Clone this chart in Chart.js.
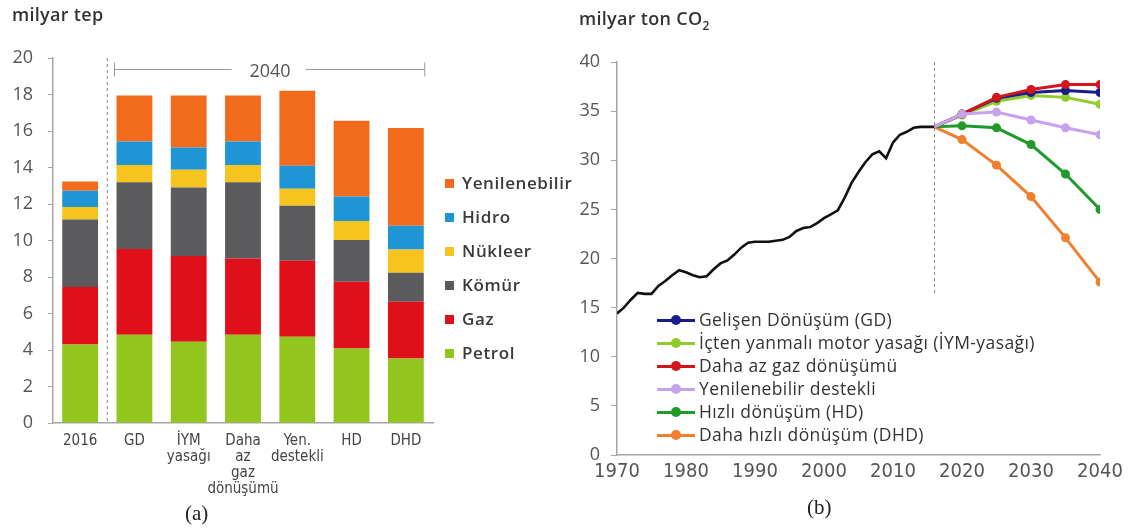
<!DOCTYPE html>
<html lang="tr">
<head>
<meta charset="utf-8">
<title>Enerji talebi ve CO2 emisyonları</title>
<script src="https://cdn.jsdelivr.net/npm/chart.js@4/dist/chart.umd.min.js"></script>
<style>
  html, body { margin: 0; padding: 0; background: #fff; }
  #wrap { position: relative; width: 1136px; height: 531px; overflow: hidden; background: #fff;
          font-family: "Open Sans", "Noto Sans", sans-serif; }
  canvas { position: absolute; top: 0; }
  #cA { left: 0; }
  #cB { left: 570px; }
  .unit { position: absolute; font-size: 18px; font-weight: 600; color: #333; white-space: nowrap; letter-spacing: 0.3px; }
  .unit sub { font-size: 12px; vertical-align: -5px; }
  .cap { position: absolute; font-family: "Liberation Serif", "DejaVu Serif", serif; font-size: 21px; color: #222; }
  #yr2040 { position: absolute; font-size: 18px; color: #555; transform: translate(-50%, -50%); }
  .legA { position: absolute; left: 445px; font-size: 17px; font-weight: 600; color: #3a3a3a; white-space: nowrap; letter-spacing: 0.6px; }
  .legA i { display: inline-block; width: 9px; height: 9px; margin-right: 8px; vertical-align: 1px; }
  .legB { position: absolute; left: 657px; font-size: 17.5px; color: #333; white-space: nowrap; line-height: 22px; letter-spacing: 0.4px; }
  .legB span.s { display: inline-block; position: relative; width: 38px; height: 10px; margin-right: 4px; vertical-align: 1px; }
  .legB span.s b { position: absolute; left: 0; right: 0; top: 4px; height: 3px; }
  .legB span.s em { position: absolute; left: 14px; top: 0px; width: 10px; height: 10px; border-radius: 50%; }
</style>
</head>
<body>
<div id="wrap">
  <canvas id="cA" width="570" height="531"></canvas>
  <canvas id="cB" width="566" height="531"></canvas>

  <div class="unit" style="left:12px; top:2px;">milyar tep</div>
  <div class="unit" style="left:579px; top:6px;">milyar ton CO<sub>2</sub></div>
  <div id="yr2040" style="left:270px; top:70px;">2040</div>

  <div id="legendA"></div>
  <div id="legendB"></div>

  <div class="cap" style="left:185px; top:501px;">(a)</div>
  <div class="cap" style="left:807px; top:495px;">(b)</div>
</div>

<script>
// ---- (a) birincil enerji talebi, milyar tep ----
const categories = [['2016'], ['GD'], ['İYM', 'yasağı'], ['Daha', 'az', 'gaz', 'dönüşümü'], ['Yen.', 'destekli'], ['HD'], ['DHD']];
const petrol        = [4.30, 4.83, 4.45, 4.83, 4.72, 4.08, 3.53];
const gaz           = [3.15, 4.70, 4.70, 4.19, 4.17, 3.66, 3.11];
const komur         = [3.70, 3.66, 3.75, 4.17, 3.02, 2.29, 1.59];
const nukleer       = [0.68, 0.95, 0.97, 0.95, 0.92, 1.04, 1.28];
const hidro         = [0.90, 1.29, 1.23, 1.29, 1.26, 1.34, 1.30];
const yenilenebilir = [0.50, 2.52, 2.85, 2.52, 4.12, 4.15, 5.35];
const fuelNames  = ['Petrol', 'Gaz', 'Kömür', 'Nükleer', 'Hidro', 'Yenilenebilir'];
const fuelColors = ['#92c61e', '#e0101a', '#5b5b5e', '#f6c31f', '#1f95d6', '#f26b1c'];
const energyTicks = [0, 2, 4, 6, 8, 10, 12, 14, 16, 18, 20];

// ---- (b) CO2 emisyonları, milyar ton ----
const histYears = [1970, 1971, 1972, 1973, 1974, 1975, 1976, 1977, 1978, 1979,
                   1980, 1981, 1982, 1983, 1984, 1985, 1986, 1987, 1988, 1989,
                   1990, 1991, 1992, 1993, 1994, 1995, 1996, 1997, 1998, 1999,
                   2000, 2001, 2002, 2003, 2004, 2005, 2006, 2007, 2008, 2009,
                   2010, 2011, 2012, 2013, 2014, 2015, 2016];
const histCO2   = [14.4, 15.0, 15.8, 16.5, 16.4, 16.4, 17.2, 17.7, 18.3, 18.8,
                   18.6, 18.3, 18.1, 18.2, 18.9, 19.5, 19.8, 20.4, 21.1, 21.6,
                   21.7, 21.7, 21.7, 21.8, 21.9, 22.2, 22.8, 23.1, 23.2, 23.6,
                   24.1, 24.5, 24.9, 26.2, 27.7, 28.8, 29.8, 30.6, 30.9, 30.2,
                   31.8, 32.6, 32.9, 33.3, 33.4, 33.4, 33.4];
const scenYears = [2016, 2020, 2025, 2030, 2035, 2040];
const co2GD     = [33.4, 34.7, 36.3, 36.9, 37.1, 36.9];
const co2IYM    = [33.4, 34.6, 36.0, 36.6, 36.4, 35.7];
const co2AzGaz  = [33.4, 34.7, 36.4, 37.2, 37.7, 37.7];
const co2Yen    = [33.4, 34.7, 34.9, 34.1, 33.3, 32.6];
const co2HD     = [33.4, 33.5, 33.3, 31.6, 28.6, 25.0];
const co2DHD    = [33.4, 32.1, 29.5, 26.3, 22.1, 17.6];
const scenNames  = ['Gelişen Dönüşüm (GD)', 'İçten yanmalı motor yasağı (İYM-yasağı)', 'Daha az gaz dönüşümü',
                    'Yenilenebilir destekli', 'Hızlı dönüşüm (HD)', 'Daha hızlı dönüşüm (DHD)'];
const scenColors = ['#1b1c8c', '#8fcc2c', '#d2161c', '#c7a3ee', '#1f9a2b', '#f07f2e'];
const scenSeries = [co2GD, co2IYM, co2AzGaz, co2Yen, co2HD, co2DHD];
const scenOrder  = [2, 3, 1, 0, 4, 5];
const yearTicks  = [1970, 1980, 1990, 2000, 2010, 2020, 2030, 2040];
const co2Ticks   = [0, 5, 10, 15, 20, 25, 30, 35, 40];

const axisGray = '#a6a6a6';
const tickGray = '#555';
const narrow = '"DejaVu Sans Condensed", "DejaVu Sans", sans-serif';
const sans = '"Open Sans", "Noto Sans", sans-serif';

// divider between 2016 and the 2040 scenarios, plus the "2040" bracket
const energyDecor = {
  id: 'energyDecor',
  afterDatasetsDraw(chart) {
    const { ctx, chartArea, scales } = chart;
    const x = scales.x, y = scales.y;
    const xd = (x.getPixelForValue(0) + x.getPixelForValue(1)) / 2;
    ctx.save();
    ctx.strokeStyle = '#8c8c8c';
    ctx.lineWidth = 1;
    ctx.setLineDash([3, 3]);
    ctx.beginPath();
    ctx.moveTo(xd, chartArea.top);
    ctx.lineTo(xd, chartArea.bottom);
    ctx.stroke();
    ctx.setLineDash([]);
    const meta = chart.getDatasetMeta(0);
    const first = meta.data[1], last = meta.data[meta.data.length - 1];
    const x0 = first.x - first.width / 2 - 2, x1 = last.x + last.width / 2 + 1;
    const yb = Math.round(y.getPixelForValue(19.4)) + 0.5;
    const mid = (x0 + x1) / 2;
    ctx.strokeStyle = '#9a9a9a';
    ctx.beginPath();
    ctx.moveTo(x0, yb); ctx.lineTo(mid - 38, yb);
    ctx.moveTo(mid + 36, yb); ctx.lineTo(x1, yb);
    ctx.moveTo(x0, yb - 7); ctx.lineTo(x0, yb + 7);
    ctx.moveTo(x1, yb - 7); ctx.lineTo(x1, yb + 7);
    ctx.stroke();
    ctx.restore();
  }
};

new Chart(document.getElementById('cA'), {
  type: 'bar',
  data: {
    labels: categories,
    datasets: [petrol, gaz, komur, nukleer, hidro, yenilenebilir].map((vals, i) => ({
      label: fuelNames[i],
      data: vals,
      backgroundColor: fuelColors[i],
      borderWidth: 0,
      barPercentage: 0.66,
      categoryPercentage: 1
    }))
  },
  options: {
    responsive: false,
    animation: false,
    events: [],
    layout: { padding: { top: 58, right: 137, left: 0, bottom: 0 } },
    plugins: { legend: { display: false }, tooltip: { enabled: false } },
    scales: {
      x: {
        stacked: true,
        grid: { display: false, tickLength: 0 },
        border: { color: axisGray, width: 1.5 },
        ticks: { color: '#444', font: { family: narrow, size: 15, weight: 'condensed', lineHeight: 1.07 },
                 padding: 10, maxRotation: 0, minRotation: 0, autoSkip: false },
        afterFit(s) { s.height = 108; }
      },
      y: {
        stacked: true,
        min: 0, max: 20,
        afterBuildTicks(s) { s.ticks = energyTicks.map(v => ({ value: v })); },
        grid: { drawOnChartArea: false, drawTicks: true, tickLength: 5, color: axisGray },
        border: { color: axisGray, width: 1.5 },
        ticks: { color: tickGray, font: { family: sans, size: 18 }, padding: 15 },
        afterFit(s) { s.width = 53; }
      }
    }
  },
  plugins: [energyDecor]
});

// 2016 boundary between history and scenarios
const co2Decor = {
  id: 'co2Decor',
  beforeDatasetsDraw(chart) {
    const { ctx, scales } = chart;
    const xd = Math.round(scales.x.getPixelForValue(2016)) + 0.5;
    ctx.save();
    ctx.strokeStyle = '#8c8c8c';
    ctx.lineWidth = 1;
    ctx.setLineDash([3, 3]);
    ctx.beginPath();
    ctx.moveTo(xd, scales.y.getPixelForValue(40));
    ctx.lineTo(xd, scales.y.getPixelForValue(16.3));
    ctx.stroke();
    ctx.restore();
  }
};

const histData = histYears.map((yr, i) => ({ x: yr, y: histCO2[i] }));
const scenDatasets = scenSeries.map((vals, k) => ({
  label: scenNames[k],
  data: scenYears.map((yr, i) => ({ x: yr, y: vals[i] })),
  borderColor: scenColors[k],
  backgroundColor: scenColors[k],
  pointBackgroundColor: scenColors[k],
  pointBorderColor: scenColors[k],
  borderWidth: 3,
  pointRadius: scenYears.map((yr, i) => (i === 0 ? 0 : 4.5)),
  pointBorderWidth: 0,
  tension: 0,
  order: scenOrder[k]
}));

new Chart(document.getElementById('cB'), {
  type: 'line',
  data: {
    datasets: [
      ...scenDatasets,
      { label: 'Tarihsel', data: histData, borderColor: '#111', borderWidth: 2.6,
        pointRadius: 0, tension: 0, order: 6 }
    ]
  },
  options: {
    responsive: false,
    animation: false,
    events: [],
    layout: { padding: { top: 62, right: 36, left: 0, bottom: 0 } },
    plugins: { legend: { display: false }, tooltip: { enabled: false } },
    scales: {
      x: {
        type: 'linear',
        min: 1970, max: 2040,
        afterBuildTicks(s) { s.ticks = yearTicks.map(v => ({ value: v })); },
        grid: { display: false, tickLength: 0 },
        border: { color: axisGray, width: 1.5 },
        ticks: { color: tickGray, font: { family: narrow, size: 20, weight: 'condensed' }, padding: 5,
                 maxRotation: 0, autoSkip: false, callback: v => String(v) },
        afterFit(s) { s.height = 76; }
      },
      y: {
        min: 0, max: 40,
        afterBuildTicks(s) { s.ticks = co2Ticks.map(v => ({ value: v })); },
        grid: { drawOnChartArea: false, drawTicks: true, tickLength: 6, color: axisGray },
        border: { color: axisGray, width: 1.5 },
        ticks: { color: tickGray, font: { family: sans, size: 18 }, padding: 11 },
        afterFit(s) { s.width = 47; }
      }
    }
  },
  plugins: [co2Decor]
});

// legends
const legA = document.getElementById('legendA');
fuelNames.slice().reverse().forEach((name, i) => {
  const c = fuelColors[fuelNames.length - 1 - i];
  const d = document.createElement('div');
  d.className = 'legA';
  d.style.top = (171 + 34 * i) + 'px';
  d.innerHTML = '<i style="background:' + c + '"></i>' + name;
  legA.appendChild(d);
});
const legB = document.getElementById('legendB');
scenNames.forEach((name, i) => {
  const d = document.createElement('div');
  d.className = 'legB';
  d.style.top = (308 + 23 * i) + 'px';
  d.innerHTML = '<span class="s"><b style="background:' + scenColors[i] + '"></b><em style="background:' +
                scenColors[i] + '"></em></span>' + name;
  legB.appendChild(d);
});
</script>
</body>
</html>
